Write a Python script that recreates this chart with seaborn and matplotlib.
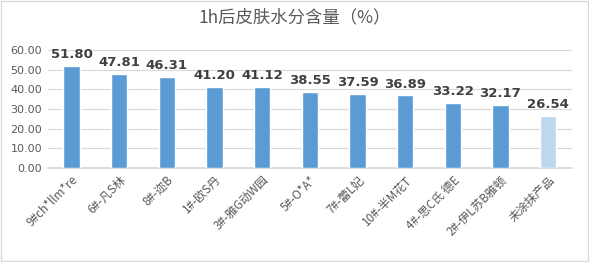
import matplotlib
matplotlib.use("Agg")
import matplotlib.pyplot as plt
import seaborn as sns
import pandas as pd

categories = ["9#ch*llm*re", "6#-凡S林", "8#-迩B", "1#-欧S丹", "3#-雅G动W园",
              "5#-O*A*", "7#-蕾L妃", "10#-半M花T", "4#-思C氏 德E", "2#-伊L苏B雅顿", "未涂抹产品"]
values = [51.80, 47.81, 46.31, 41.20, 41.12, 38.55, 37.59, 36.89, 33.22, 32.17, 26.54]
yticks = [0, 10, 20, 30, 40, 50, 60]

sns.set_theme(style="white")
plt.rcParams['font.family'] = ['Noto Sans CJK SC', 'DejaVu Sans']

df = pd.DataFrame({"cat": categories, "val": values})
colors = ["#5B9BD5"] * 10 + ["#BDD7EE"]

fig = plt.figure(figsize=(5.89, 2.62), dpi=100)
ax = fig.add_axes([0.081, 0.359, 0.89, 0.45])
sns.barplot(data=df, x="cat", y="val", hue="cat", palette=colors, legend=False,
            width=0.34, saturation=1, ax=ax, zorder=3)
ax.set_ylim(0, 60)
ax.set_yticks(yticks)
ax.set_yticklabels([f"{v:.2f}" for v in yticks], fontsize=8, color="#595959",
                   family=['DejaVu Sans'])
ax.yaxis.grid(True, color="#D9D9D9", linewidth=0.8, zorder=0)
ax.set_xlim(-0.5, len(categories) - 0.5)
for s in ["top", "right", "left"]:
    ax.spines[s].set_visible(False)
ax.spines["bottom"].set_color("#D9D9D9")
ax.tick_params(axis="both", length=0, pad=4)
ax.set_xlabel("")
ax.set_ylabel("")
ax.set_xticks(range(len(categories)))
ax.set_xticklabels(categories, rotation=45, ha="right", rotation_mode="anchor",
                   fontsize=8.5, color="#595959")
for i, v in enumerate(values):
    ax.text(i, v + 2.5, f"{v:.2f}", ha="center", va="bottom", fontsize=9.5,
            fontweight="bold", color="#404040", family=['DejaVu Sans'])
fig.text(0.5, 0.935, "1h后皮肤水分含量（%）", ha="center", va="center",
         fontsize=12.5, color="#595959")
fig.patches.append(plt.Rectangle((0.002, 0.004), 0.996, 0.992, transform=fig.transFigure,
                                 fill=False, edgecolor="#D9D9D9", linewidth=1))
fig.savefig("out.png", dpi=100)
